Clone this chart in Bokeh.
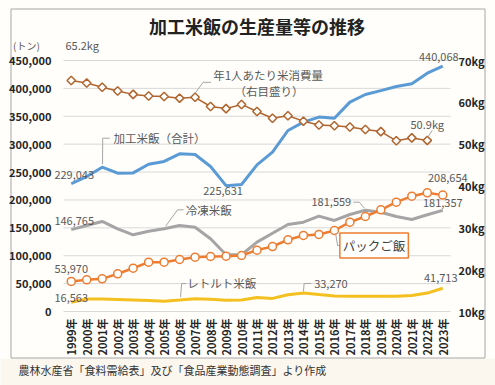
import math
from bokeh.plotting import figure
from bokeh.models import (Range1d, LinearAxis, NumeralTickFormatter, PrintfTickFormatter,
                          FixedTicker, Label)
from bokeh.embed import file_html
from bokeh.resources import INLINE

# ---------------- data ----------------
years = [1999, 2000, 2001, 2002, 2003, 2004, 2005, 2006, 2007, 2008, 2009, 2010, 2011,
         2012, 2013, 2014, 2015, 2016, 2017, 2018, 2019, 2020, 2021, 2022, 2023]
total = [229043, 242000, 258700, 248000, 248500, 264000, 269000, 282700, 281500, 260000,
         225631, 227700, 263000, 285600, 324500, 339500, 348500, 346600, 375300, 389000,
         396000, 403400, 408300, 427300, 440068]
frozen = [146765, 154200, 161400, 148300, 137500, 144000, 148300, 154200, 151100, 130300,
          101700, 101700, 124300, 140400, 156000, 160100, 170900, 163200, 173900, 181559,
          178000, 170300, 165000, 173400, 181357]
pack = [53970, 56800, 58600, 67600, 77600, 88400, 88400, 93200, 97400, 98600,
        99200, 100400, 110000, 116500, 128600, 136300, 138100, 145200, 160100, 170300,
        182300, 196000, 206700, 212800, 208654]
retort = [16563, 22500, 22500, 21500, 20500, 19500, 18500, 20500, 23000, 22000,
          20000, 20500, 25000, 23500, 30000, 33270, 30500, 28000, 27500, 27500,
          27500, 27500, 28500, 33000, 41713]
consumption = [65.2, 64.6, 63.6, 62.7, 61.9, 61.5, 61.4, 61.0, 61.2, 59.0,
               58.5, 59.5, 57.8, 56.2, 56.8, 55.5, 54.6, 54.4, 54.1, 53.5,
               53.0, 50.8, 51.5, 50.9]
cons_years = years[:len(consumption)]
left_ticks = [0, 50000, 100000, 150000, 200000, 250000, 300000, 350000, 400000, 450000]
right_ticks = [10, 20, 30, 40, 50, 60, 70]
year_suffix = "%d年"
kg_suffix = "%dkg"

title_text = "加工米飯の生産量等の推移"
unit_text = "(トン)"
source_text = "農林水産省「食料需給表」及び「食品産業動態調査」より作成"

# ---------------- geometry & styles ----------------
W, H = 495, 385
FRAME_L, FRAME_R = 63, 450    # px of plot-area edges
ZERO_Y, TOP_Y = 311, 60       # px of 0 and 450,000
X_LO, X_HI = years[0] - 0.5, years[-1] + 0.5
Y_TOP = left_ticks[-1]
XPX = (FRAME_R - FRAME_L) / (X_HI - X_LO)      # px per year
YPX = Y_TOP / (ZERO_Y - TOP_Y)                 # value per px
KG_LO, KG_HI = right_ticks[0], right_ticks[-1]
KPX = (KG_HI - KG_LO) / (ZERO_Y - TOP_Y)


def px2x(px):
    return X_LO + (px - FRAME_L) / XPX


def px2y(py):
    return (ZERO_Y - py) * YPX


def v2kg(v):
    return KG_LO + v * (KG_HI - KG_LO) / Y_TOP


FONT = "Noto Sans CJK JP"
C_BLUE = "#5b9bd5"
C_GRAY = "#a5a5a5"
C_YEL = "#f4c020"
C_ORA = "#ed7d31"
C_BRO = "#b0652f"
C_TXT = "#595959"
C_LEAD = "#a6a6a6"
BG_IN = "#fffefb"
BG_OUT = "#fbf7ef"

y_lo, y_hi = px2y(H), px2y(0)
p = figure(width=W, height=H, x_range=Range1d(px2x(0), px2x(W)),
           y_range=Range1d(y_lo, y_hi), output_backend="svg", toolbar_location=None,
           title=None, x_axis_location=None, y_axis_location=None,
           min_border=0, min_border_left=0, min_border_right=0,
           min_border_top=0, min_border_bottom=0)
p.extra_y_ranges = {"kg": Range1d(v2kg(y_lo), v2kg(y_hi))}
p.background_fill_color = BG_IN
p.border_fill_color = BG_IN
p.outline_line_color = None
p.xgrid.visible = False
p.ygrid.visible = False

# cream strip below the box, and the box border
p.quad(left=px2x(0), right=px2x(W), top=px2y(358), bottom=px2y(H),
       fill_color=BG_OUT, line_color=None)
p.quad(left=px2x(10.5), right=px2x(484.5), top=px2y(8.5), bottom=px2y(357.5),
       fill_color=None, line_color="#a6a6a6", line_width=1)

# horizontal gridlines across the plot area
p.segment(x0=[X_LO] * len(left_ticks), x1=[X_HI] * len(left_ticks), y0=left_ticks,
          y1=left_ticks, line_color="#d9d9d9", line_width=1)

# axes (fixed in place so they take no panel space)
xa = LinearAxis(ticker=FixedTicker(ticks=years, minor_ticks=[]),
                formatter=PrintfTickFormatter(format=year_suffix), fixed_location=0)
ya = LinearAxis(ticker=FixedTicker(ticks=left_ticks, minor_ticks=[]),
                formatter=NumeralTickFormatter(format="0,0"), fixed_location=X_LO)
ra = LinearAxis(y_range_name="kg", ticker=FixedTicker(ticks=right_ticks, minor_ticks=[]),
                formatter=PrintfTickFormatter(format=kg_suffix), fixed_location=X_HI)
for ax in [xa, ya, ra]:
    ax.axis_line_color = None
    ax.major_tick_line_color = None
    ax.minor_tick_line_color = None
    ax.major_tick_in = 0
    ax.major_tick_out = 0
    ax.major_label_text_font = FONT
    ax.major_label_text_font_style = "bold"
    ax.major_label_text_font_size = "11px"
    ax.major_label_text_color = "#262626"
ya.major_label_standoff = 12
ra.major_label_standoff = 8
xa.major_label_standoff = 7
xa.major_label_orientation = math.pi / 2
p.add_layout(xa, "below")
p.add_layout(ya, "left")
p.add_layout(ra, "right")

# series
p.line(years, total, line_color=C_BLUE, line_width=3)
p.line(years, frozen, line_color=C_GRAY, line_width=3)
p.line(years, retort, line_color=C_YEL, line_width=3)
p.line(years, pack, line_color=C_ORA, line_width=2.5)
p.scatter(years, pack, marker="circle", size=8, fill_color="white", line_color=C_ORA, line_width=1.5)
p.line(cons_years, consumption, line_color=C_BRO, line_width=1.5, y_range_name="kg")
p.scatter(cons_years, consumption, marker="square", angle=math.pi / 4, size=6,
          fill_color="white", line_color=C_BRO, line_width=1.5, y_range_name="kg")


def leader(i, v, pts, kg=False):
    per = KPX if kg else YPX
    xs = [years[i] + dx / XPX for dx, dy in pts]
    ys = [v + dy * per for dx, dy in pts]
    kw = {"y_range_name": "kg"} if kg else {}
    p.line(xs, ys, line_color=C_LEAD, line_width=1, **kw)


def lab(text, x, v, dx, dy, align="center", kg=False, size="11px", color=C_TXT, **kw):
    extra = {"y_range_name": "kg"} if kg else {}
    p.add_layout(Label(x=x, y=v, x_offset=dx, y_offset=dy, text=text,
                       text_align=align, text_baseline="middle", text_font=FONT,
                       text_font_size=size, text_color=color, **extra, **kw))


# leader lines
leader(8, consumption[8], [(0, 4), (8, 15), (16, 15)], kg=True)
leader(2, total[2], [(0.3, 3), (0.5, 29), (7.5, 29)])
leader(6, frozen[6], [(1.5, 2.5), (13.5, 19), (19.5, 19)])
leader(7, retort[7], [(1, 3), (2, 16.5), (6.5, 16.5)])
leader(17, pack[17], [(1.2, -3), (3.2, -15), (8.4, -15)])
leader(19, frozen[19], [(-1, 2), (-6, 8), (-12, 8)])
leader(15, retort[15], [(0, 1.5), (0.7, 9.5), (7.7, 9.5)])
leader(23, consumption[23], [(1, 4), (5, 10)], kg=True)

# data labels
y = years
lab("65.2kg", y[0], consumption[0], 11, 36, kg=True)
lab("229,043", y[0], total[0], 3, 9)
lab("146,765", y[0], frozen[0], 3, 9)
lab("53,970", y[0], pack[0], 0, 12)
lab("16,563", y[0], retort[0], 0, 4)
lab("225,631", y[10], total[10], -3, -5)
lab("440,068", y[24], total[24], -4, 9.5)
lab("50.9kg", y[23], consumption[23], 0, 16, kg=True)
lab("208,654", y[24], pack[24], 5, 17)
lab("181,357", y[24], frozen[24], 0, 7)
lab("181,559", y[19], frozen[19], -34, 8)
lab("33,270", y[15], retort[15], 10.7, 9.4, align="left")
lab("41,713", y[24], retort[24], -2, 10.5)

# series name labels
lab("年1人あたり米消費量", y[8], consumption[8], 73, 22.3, kg=True, size="11.5px")
lab("（右目盛り）", y[8], consumption[8], 74, 6.3, kg=True, size="11.5px")
lab("加工米飯（合計）", y[2], total[2], 11.3, 29, align="left", size="11.5px")
lab("冷凍米飯", y[6], frozen[6], 21.7, 18.8, align="left", size="11.5px")
lab("レトルト米飯", y[7], retort[7], 7.7, 16.6, align="left", size="11.5px")
lab("パックご飯", y[17], pack[17], 39.7, -15, size="12.5px", color="#404040",
    border_line_color=C_ORA, border_line_width=1.5, background_fill_color="white", padding=3)

# title, unit, source
lab(title_text, (X_LO + X_HI) / 2, px2y(25), 0, 0, size="18px", color="#222222",
    text_font_style="bold")
lab(unit_text, px2x(26), px2y(45), 0, 0, size="10px")
lab(source_text, px2x(18), px2y(369), 0, 0, align="left", size="11px", color="#333333")

open("out.html", "w").write(file_html(p, INLINE))
